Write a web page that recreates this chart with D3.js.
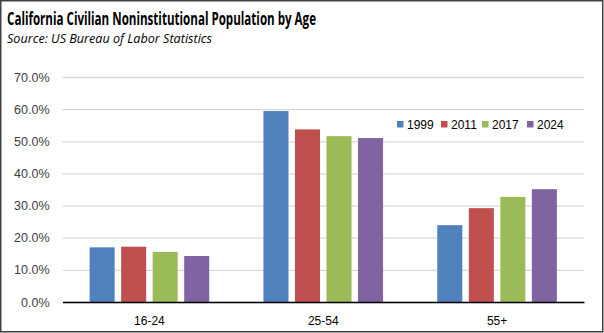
<!DOCTYPE html>
<html><head><meta charset="utf-8">
<script src="https://cdn.jsdelivr.net/npm/d3@7"></script>
<style>body{margin:0;background:#fff}svg{display:block}</style>
</head><body>
<script>
const categories = ["16-24","25-54","55+"];
const seriesNames = ["1999","2011","2017","2024"];
const values1999 = [17.0, 59.4, 23.9];
const values2011 = [17.2, 53.7, 29.2];
const values2017 = [15.6, 51.6, 32.7];
const values2024 = [14.3, 51.0, 35.1];
const yTicks = [0,10,20,30,40,50,60,70];
const colors = ["#4f81bd","#c0504d","#9bbb59","#8064a2"];
const series = [values1999, values2011, values2017, values2024];

(function(){
const W=604,H=333;
const svg=d3.select("body").append("svg").attr("width",W).attr("height",H);
svg.append("rect").attr("x",0.75).attr("y",0.75).attr("width",W-2).attr("height",H-2)
  .attr("fill","#fff").attr("stroke","#404040").attr("stroke-width",1.5);

svg.append("text").attr("x",7).attr("y",24.5).attr("font-family","Open Sans, sans-serif")
  .attr("font-weight","bold").attr("font-size",18.5).attr("fill","#000")
  .text("California Civilian Noninstitutional Population by Age")
  .attr("textLength",309).attr("lengthAdjust","spacingAndGlyphs");
svg.append("text").attr("x",7).attr("y",43).attr("font-family","Open Sans, sans-serif")
  .attr("font-style","italic").attr("font-size",12).attr("fill","#000")
  .text("Source:  US Bureau of Labor Statistics")
  .attr("textLength",205).attr("lengthAdjust","spacingAndGlyphs");

const pL=62.5,pR=584,pT=77,pB=302;
const y=d3.scaleLinear().domain([0,70]).range([pB,pT]);
const x0=d3.scaleBand().domain(categories).range([pL,pR]).paddingInner(0).paddingOuter(0);
const x1=d3.scaleBand().domain(seriesNames).range([0,x0.bandwidth()]).paddingInner(0.206).paddingOuter(0.86);

const yAxis=d3.axisLeft(y).tickValues(yTicks).tickSize(-(pR-pL)).tickFormat(d=>d.toFixed(1)+"%").tickPadding(13);
const ga=svg.append("g").attr("transform",`translate(${pL},0)`).call(yAxis);
ga.select(".domain").remove();
ga.selectAll(".tick line").attr("stroke","#d9d9d9").attr("stroke-width",1.3);
ga.selectAll(".tick text").attr("font-family","Liberation Sans, Arial, sans-serif").attr("font-size",12.5).attr("fill","#404040");

const g=svg.append("g");
categories.forEach((c,ci)=>{
  seriesNames.forEach((s,si)=>{
    const v=series[si][ci];
    g.append("rect").attr("x",x0(c)+x1(s)).attr("y",y(v)).attr("width",x1.bandwidth())
      .attr("height",y(0)-y(v)).attr("fill",colors[si]);
  });
});

const xAxis=d3.axisBottom(x0).tickSize(0).tickPadding(14);
const gx=svg.append("g").attr("transform",`translate(0,${pB})`).call(xAxis);
gx.select(".domain").attr("stroke","#000").attr("stroke-width",1.5);
gx.selectAll(".tick text").attr("font-family","Liberation Sans, Arial, sans-serif").attr("font-size",12).attr("fill","#000");

const legX=[397,441,482,527];
const leg=svg.append("g");
seriesNames.forEach((s,i)=>{
  leg.append("rect").attr("x",legX[i]).attr("y",121).attr("width",6.5).attr("height",6.5).attr("fill",colors[i]);
  leg.append("text").attr("x",legX[i]+10).attr("y",128.5).attr("font-family","Liberation Sans, Arial, sans-serif")
    .attr("font-size",12).attr("fill","#000").text(s);
});
})();
</script>
</body></html>
